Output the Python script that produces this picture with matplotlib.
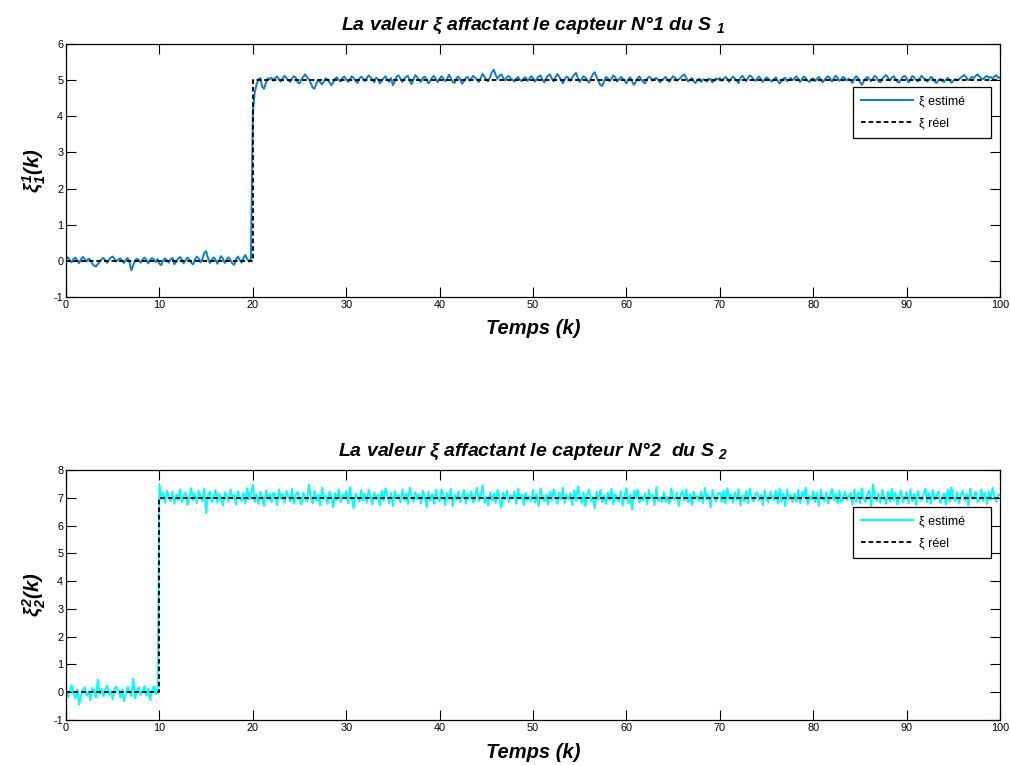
import numpy as np
import matplotlib
matplotlib.use("Agg")
import matplotlib.pyplot as plt

plt.rcParams['font.family'] = ['Liberation Sans', 'DejaVu Sans']
plt.rcParams['mathtext.fontset'] = 'custom'
plt.rcParams['mathtext.rm'] = 'Liberation Sans:bold:italic'
plt.rcParams['mathtext.it'] = 'Liberation Sans:bold:italic'
plt.rcParams['mathtext.bf'] = 'Liberation Sans:bold:italic'
plt.rcParams['axes.unicode_minus'] = False

# ---------------- data ----------------
xi1_est = [
    0.06, 0.10, 0.02, -0.04, 0.05, 0.09, 0.01, -0.06, 0.04, 0.11,
    0.05, -0.02, 0.06, 0.03, -0.08, -0.13, -0.16, -0.09, -0.03, 0.04,
    0.08, 0.02, -0.05, 0.03, 0.09, 0.12, 0.05, -0.02, 0.04, 0.07,
    0.00, -0.06, 0.03, 0.08, -0.04, -0.26, -0.12, 0.01, 0.06, 0.02,
    -0.05, 0.04, 0.09, 0.03, -0.07, 0.02, 0.08, 0.04, -0.03, 0.05,
    -0.08, -0.12, 0.01, 0.07, 0.02, -0.05, 0.04, 0.08, -0.09, -0.03,
    0.06, 0.11, 0.03, -0.07, 0.02, 0.09, 0.04, -0.05, -0.10, 0.03,
    0.12, 0.07, -0.04, 0.05, 0.22, 0.27, 0.08, -0.06, 0.02, 0.10,
    0.04, -0.08, 0.02, 0.13, 0.06, -0.06, 0.03, 0.10, 0.02, -0.07,
    -0.11, 0.04, 0.12, 0.03, -0.05, 0.08, 0.16, 0.05, -0.02, 0.06,
    4.10, 4.65, 4.88, 5.02, 5.06, 4.82, 4.76, 4.92, 5.05, 5.03,
    5.07, 4.98, 5.06, 5.10, 5.02, 4.96, 5.05, 5.12, 5.06, 5.00,
    4.95, 5.04, 5.11, 5.07, 4.94, 4.91, 5.02, 5.09, 5.16, 5.08,
    5.03, 4.92, 4.80, 4.76, 4.90, 5.00, 4.95, 4.88, 4.96, 5.05,
    5.02, 4.94, 4.86, 4.93, 5.04, 5.08, 5.00, 4.96, 5.06, 5.10,
    5.03, 4.95, 5.02, 5.11, 5.06, 4.98, 4.92, 5.04, 5.10, 5.05,
    4.97, 5.06, 5.13, 5.08, 5.00, 4.94, 5.07, 5.03, 4.91, 4.98,
    5.05, 5.11, 5.02, 4.95, 5.06, 4.86, 4.97, 5.10, 5.13, 5.04,
    4.95, 5.03, 5.09, 5.12, 4.99, 4.89, 5.02, 5.14, 5.08, 5.01,
    4.95, 5.06, 5.10, 5.02, 4.91, 4.98, 5.07, 5.12, 5.03, 4.94,
    5.04, 5.11, 5.05, 4.97, 5.03, 5.15, 5.06, 4.95, 4.92, 5.05,
    5.10, 5.02, 4.90, 4.97, 5.06, 5.09, 4.98, 5.05, 5.12, 5.07,
    5.02, 4.95, 5.06, 5.17, 5.10, 5.01, 4.97, 5.08, 5.22, 5.29,
    5.14, 5.04, 5.12, 5.16, 5.07, 4.99, 5.08, 5.12, 5.05, 5.01,
    4.96, 5.04, 5.09, 5.01, 4.97, 5.05, 5.08, 4.98, 5.04, 5.11,
    5.06, 4.96, 5.03, 5.10, 5.13, 5.02, 4.94, 5.05, 5.12, 5.16,
    5.05, 4.97, 5.08, 5.17, 5.10, 5.00, 4.91, 5.03, 5.10, 5.06,
    4.98, 5.07, 5.15, 5.20, 5.06, 4.95, 5.03, 5.11, 5.07, 5.00,
    4.93, 5.05, 5.16, 5.22, 5.09, 4.97, 4.87, 4.84, 4.96, 5.09,
    5.05, 4.97, 5.04, 5.13, 5.08, 4.96, 5.02, 5.09, 5.04, 4.98,
    4.91, 5.02, 5.08, 4.97, 4.87, 4.95, 5.06, 5.10, 5.02, 4.95,
    4.91, 5.03, 5.09, 5.07, 4.99, 5.04, 5.06, 5.01, 4.94, 5.00,
    5.04, 5.09, 5.02, 4.95, 5.04, 5.11, 5.07, 4.98, 5.02, 5.06,
    5.13, 5.16, 5.07, 4.96, 5.01, 5.06, 4.97, 4.92, 5.00, 5.04,
    4.95, 5.02, 5.01, 4.96, 5.04, 5.03, 4.94, 4.98, 5.05, 5.02,
    5.06, 4.98, 5.03, 5.09, 5.04, 4.95, 5.03, 5.10, 5.05, 4.99,
    4.92, 5.05, 5.12, 5.06, 4.97, 5.05, 5.13, 5.10, 5.02, 4.98,
    5.05, 5.10, 5.03, 4.95, 5.02, 5.08, 5.04, 4.99, 4.96, 5.03,
    5.08, 4.99, 4.91, 4.97, 5.04, 5.07, 4.97, 5.02, 5.06, 5.00,
    5.05, 5.11, 5.04, 4.95, 5.03, 5.10, 5.06, 4.98, 4.95, 5.03,
    5.05, 4.97, 5.04, 5.09, 5.02, 4.94, 5.00, 5.07, 5.11, 5.04,
    4.96, 5.05, 5.12, 5.07, 4.98, 5.02, 5.09, 5.05, 4.99, 5.04,
    4.99, 4.92, 5.04, 5.11, 5.06, 4.95, 4.87, 4.96, 5.04, 5.09,
    5.03, 4.97, 5.05, 5.12, 5.07, 4.97, 4.94, 5.05, 5.10, 5.14,
    5.07, 4.99, 5.06, 5.11, 5.04, 4.96, 4.93, 5.02, 5.09, 5.12,
    5.05, 4.94, 5.00, 5.12, 5.08, 5.01, 4.96, 5.05, 5.12, 5.06,
    5.03, 4.96, 5.01, 5.09, 5.05, 4.96, 4.92, 4.99, 5.04, 4.98,
    4.95, 5.01, 5.06, 5.00, 4.93, 4.98, 5.03, 4.99, 5.02, 5.07,
    5.11, 5.14, 5.07, 5.00, 5.03, 5.09, 5.06, 5.12, 5.16, 5.10,
    5.05, 5.03, 5.08, 5.12, 5.06, 5.09, 5.04, 5.10, 5.14, 5.06,
    5.08,
]

xi2_est = [
    0.12, -0.18, 0.05, 0.26, -0.08, -0.22, 0.10, -0.45, -0.10, 0.08,
    0.18, -0.12, 0.02, -0.28, 0.15, 0.06, -0.20, 0.45, -0.06, 0.12,
    -0.15, 0.08, 0.24, -0.10, 0.04, -0.25, 0.14, 0.20, 0.05, -0.18,
    0.10, -0.32, -0.06, 0.20, 0.02, -0.14, 0.50, -0.22, 0.08, 0.18,
    -0.10, 0.05, 0.22, -0.12, 0.14, -0.28, 0.06, 0.22, -0.08, 0.15,
    7.50, 6.95, 7.18, 6.82, 7.26, 7.05, 6.88, 7.22, 6.78, 7.12,
    6.92, 7.30, 6.85, 7.08, 7.20, 6.75, 7.02, 7.35, 6.90, 7.14,
    6.80, 7.25, 7.05, 6.88, 7.32, 6.45, 7.10, 7.22, 6.85, 7.02,
    7.28, 6.82, 7.15, 6.95, 6.72, 7.20, 7.08, 6.86, 7.30, 6.98,
    7.12, 6.76, 7.24, 7.02, 6.88, 7.18, 6.80, 7.35, 6.94, 7.10,
    7.48, 6.85, 7.12, 6.78, 7.22, 7.00, 6.70, 7.26, 6.92, 7.15,
    6.84, 7.20, 7.05, 6.74, 7.30, 6.96, 7.14, 6.82, 7.24, 7.02,
    6.88, 7.32, 6.78, 7.10, 7.22, 6.92, 6.76, 7.18, 7.04, 6.86,
    7.48, 7.02, 6.80, 7.25, 6.90, 7.12, 6.72, 7.36, 6.96, 7.08,
    6.78, 7.22, 7.04, 6.66, 7.18, 6.92, 7.30, 6.84, 7.10, 7.00,
    7.24, 6.80, 7.38, 6.95, 6.62, 7.16, 7.02, 6.86, 7.28, 6.90,
    7.14, 6.82, 7.30, 7.00, 6.76, 7.20, 6.94, 7.12, 6.72, 7.26,
    6.88, 7.34, 7.06, 6.80, 7.18, 6.70, 7.24, 6.98, 7.10, 6.84,
    7.30, 6.92, 7.16, 6.76, 7.36, 7.02, 6.86, 7.20, 6.94, 7.12,
    6.80, 7.26, 7.04, 6.66, 7.22, 6.90, 7.14, 6.78, 7.28, 7.00,
    6.86, 7.30, 7.10, 6.74, 7.18, 6.96, 7.32, 6.70, 7.12, 6.92,
    7.22, 6.84, 7.06, 7.28, 6.78, 7.14, 6.94, 7.24, 6.82, 7.04,
    7.36, 6.88, 7.10, 7.45, 6.82, 7.02, 6.72, 7.20, 6.90, 7.16,
    6.80, 7.28, 7.02, 6.64, 7.18, 6.94, 7.26, 6.84, 7.08, 6.98,
    7.22, 6.78, 7.32, 6.96, 7.12, 6.74, 7.18, 6.90, 7.06, 6.86,
    7.28, 6.82, 7.14, 6.70, 7.34, 7.00, 6.88, 7.12, 6.76, 7.22,
    6.90, 7.30, 7.06, 6.78, 7.18, 6.94, 7.36, 6.82, 7.10, 6.96,
    7.16, 6.74, 7.26, 6.88, 7.40, 7.04, 6.80, 7.20, 6.68, 7.12,
    7.30, 6.88, 7.02, 6.62, 7.22, 6.94, 7.28, 6.84, 7.08, 6.78,
    7.18, 6.92, 7.32, 6.76, 7.14, 7.00, 6.86, 7.24, 6.72, 7.10,
    7.34, 6.80, 7.12, 6.58, 7.26, 6.96, 7.30, 6.82, 7.06, 6.90,
    7.16, 6.76, 7.28, 6.98, 7.10, 6.74, 7.38, 6.88, 7.02, 6.84,
    7.20, 6.86, 7.04, 6.78, 7.32, 7.02, 6.92, 7.18, 6.70, 7.12,
    7.26, 6.90, 7.30, 6.84, 7.14, 6.74, 7.22, 6.96, 7.08, 6.88,
    7.22, 6.80, 7.36, 6.94, 7.10, 6.66, 7.28, 7.00, 6.86, 7.16,
    7.18, 6.84, 7.26, 6.78, 7.34, 6.96, 7.12, 6.82, 7.20, 6.92,
    7.30, 6.72, 7.08, 6.88, 7.24, 6.80, 7.32, 7.00, 6.86, 7.14,
    7.20, 6.90, 7.12, 6.74, 7.28, 6.96, 6.84, 7.22, 7.04, 6.92,
    7.26, 6.78, 7.34, 6.86, 7.16, 6.70, 7.30, 6.94, 7.10, 6.84,
    7.16, 6.86, 7.28, 6.80, 7.22, 7.02, 7.36, 6.76, 7.08, 6.94,
    7.24, 6.84, 7.18, 6.70, 7.30, 6.98, 6.88, 7.20, 6.80, 7.12,
    7.32, 6.90, 7.14, 6.78, 7.26, 6.84, 7.02, 7.22, 6.92, 7.06,
    7.18, 6.76, 7.30, 6.86, 7.20, 6.80, 7.34, 6.96, 6.84, 7.14,
    7.26, 6.68, 7.48, 7.02, 6.88, 7.16, 6.82, 7.28, 6.96, 6.78,
    7.22, 6.86, 7.32, 6.92, 7.18, 6.76, 7.06, 7.26, 6.84, 7.00,
    7.20, 6.80, 7.30, 6.88, 7.14, 6.74, 7.24, 7.02, 6.90, 7.10,
    7.34, 6.84, 7.18, 6.78, 7.28, 6.92, 7.06, 7.22, 6.82, 6.98,
    7.16, 6.76, 7.30, 6.86, 7.38, 7.00, 6.88, 7.20, 6.80, 7.08,
    7.26, 6.90, 7.14, 6.72, 7.32, 6.96, 7.04, 7.22, 6.84, 6.94,
    7.30, 6.88, 7.18, 6.78, 7.24, 6.92, 7.36, 7.02, 6.86, 7.12,
    7.10,
]

xi1_true_k = [0, 20, 20, 100]
xi1_true = [0, 0, 5, 5]
xi2_true_k = [0, 10, 10, 100]
xi2_true = [0, 0, 7, 7]

yticks1 = [-1, 0, 1, 2, 3, 4, 5, 6]
yticks2 = [-1, 0, 1, 2, 3, 4, 5, 6, 7, 8]
xticks = [0, 10, 20, 30, 40, 50, 60, 70, 80, 90, 100]

titles = [r'La valeur ξ affactant le capteur N°1 du S $_{1}$',
          r'La valeur ξ affactant le capteur N°2  du S $_{2}$']
ylabels = [r'$\xi^{1}_{1}(k)$', r'$\xi^{2}_{2}(k)$']
xlabel = 'Temps (k)'
legend_labels = ['ξ estimé     ', 'ξ réel     ']

# ---------------- figure ----------------
W, H = 1010, 765
fig = plt.figure(figsize=(W / 100, H / 100), dpi=100)
fig.patch.set_facecolor('white')

def ax_rect(x0, y0, x1, y1):
    return [x0 / W, 1 - y1 / H, (x1 - x0) / W, (y1 - y0) / H]

ax1 = fig.add_axes(ax_rect(66, 44, 1000, 297))
ax2 = fig.add_axes(ax_rect(66, 470, 1000, 720))

configs = [
    (ax1, xi1_est, xi1_true_k, xi1_true, '#0f7ec3', (-1, 6), yticks1, 0.830),
    (ax2, xi2_est, xi2_true_k, xi2_true, '#00ffff', (-1, 8), yticks2, 0.852),
]

for i, (ax, est, tk, tv, col, ylim, yt, legtop) in enumerate(configs):
    k = np.linspace(0, 100, len(est))
    l1, = ax.plot(k, est, color=col, lw=1.4)
    l2, = ax.plot(tk, tv, color='black', lw=1.3, ls=(0, (2.6, 1.6)))
    ax.set_xlim(0, 100)
    ax.set_ylim(*ylim)
    ax.set_xticks(xticks)
    ax.set_yticks(yt)
    ax.tick_params(direction='in', length=7, width=0.8, labelsize=7.8,
                   top=True, right=True, pad=2)
    for s in ax.spines.values():
        s.set_linewidth(0.9)
    ax.set_title(titles[i], fontsize=14, fontweight='bold', style='italic', pad=10)
    ax.set_xlabel(xlabel, fontsize=14.5, fontweight='bold', style='italic', labelpad=7)
    ax.set_ylabel(ylabels[i], fontsize=14.5, labelpad=4)
    leg = ax.legend([l1, l2], legend_labels, loc='upper right',
                    bbox_to_anchor=(0.9904, legtop), borderaxespad=0,
                    fontsize=9, fancybox=False, framealpha=1, edgecolor='black',
                    handlelength=4.1, borderpad=0.7, labelspacing=0.75,
                    handletextpad=0.5)
    leg.get_frame().set_linewidth(0.9)

fig.savefig('out.png', dpi=100, facecolor='white')
